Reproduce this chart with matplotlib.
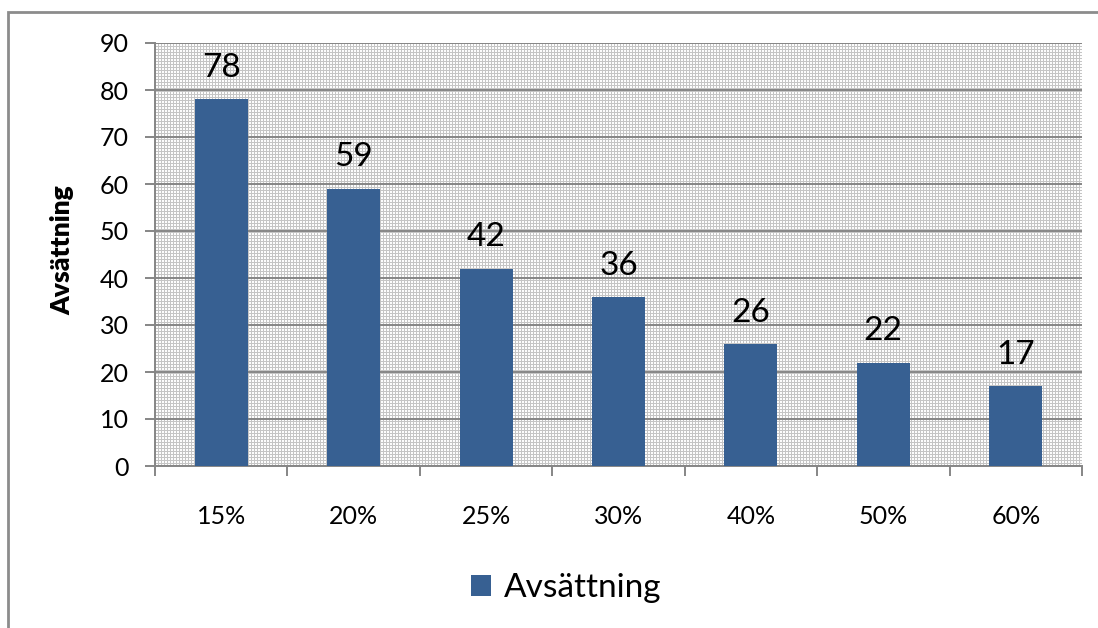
import numpy as np
import matplotlib
matplotlib.use("Agg")
import matplotlib.pyplot as plt
from matplotlib.patches import Rectangle, Patch

categories = ["15%", "20%", "25%", "30%", "40%", "50%", "60%"]
values = [78, 59, 42, 36, 26, 22, 17]
series_name = "Avsättning"
y_ticks = [0, 10, 20, 30, 40, 50, 60, 70, 80, 90]

W, H, DPI = 1098, 628, 100
BAR = "#376092"
GRID = "#868686"
FONT = "Lato"

plt.rcParams["font.family"] = [FONT, "DejaVu Sans"]

fig = plt.figure(figsize=(W / DPI, H / DPI), dpi=DPI)
fig.patch.set_facecolor("white")

# chart frame
fig.patches.append(Rectangle((8 / W, -0.05), 1.2, 1 - 12 / H + 0.05,
                             transform=fig.transFigure, fill=False,
                             edgecolor="#8c8c8c", linewidth=2.0))

left, right, top, bottom = 155, 1082, 43, 466
ax = fig.add_axes([left / W, 1 - bottom / H, (right - left) / W, (bottom - top) / H])

# fine crosshatch background of the plot area
pw, ph = right - left, bottom - top
yy, xx = np.mgrid[0:ph, 0:pw]
mask = (xx % 3 == 0) | (yy % 3 == 0)
pattern = np.where(mask, 0.77, 0.99)
ax.imshow(pattern, cmap="gray", vmin=0, vmax=1, extent=[0, 1, 0, 1],
          transform=ax.transAxes, interpolation="nearest", aspect="auto", zorder=0)

x = np.arange(len(categories))
ax.bar(x, values, width=0.4, color=BAR, zorder=3)
ax.set_xlim(-0.5, len(categories) - 0.5)
ax.set_ylim(0, 90)
ax.set_yticks(y_ticks)
ax.yaxis.grid(True, color=GRID, linewidth=1.4, zorder=1)
ax.set_axisbelow(True)

for xi, v in zip(x, values):
    ax.annotate(str(v), (xi, v), xytext=(0, 16), textcoords="offset points",
                ha="center", va="baseline", fontsize=24, color="black")

# category labels between boundary ticks
ax.set_xticks(np.arange(len(categories) + 1) - 0.5)
ax.set_xticklabels([])
ax.set_xticks(x, minor=True)
ax.set_xticklabels(categories, minor=True, fontsize=18)
ax.tick_params(axis="x", which="minor", length=0, pad=28)
ax.tick_params(axis="x", which="major", length=7, width=1.4, color=GRID, direction="out")
ax.tick_params(axis="y", length=7, width=1.4, color=GRID, labelsize=18, pad=12)

for s in ("top", "right"):
    ax.spines[s].set_visible(False)
for s in ("left", "bottom"):
    ax.spines[s].set_color(GRID)
    ax.spines[s].set_linewidth(1.4)

fig.text(62 / W, 1 - 250 / H, series_name, rotation=90, ha="center", va="center",
         fontsize=19, fontweight="heavy")

fig.legend(handles=[Patch(facecolor=BAR, label=series_name)], loc="center",
           bbox_to_anchor=(566 / W, 1 - 588 / H), frameon=False, fontsize=24,
           handlelength=0.6, handleheight=0.6, handletextpad=0.4)

fig.savefig("out.png", dpi=DPI, facecolor="white")
